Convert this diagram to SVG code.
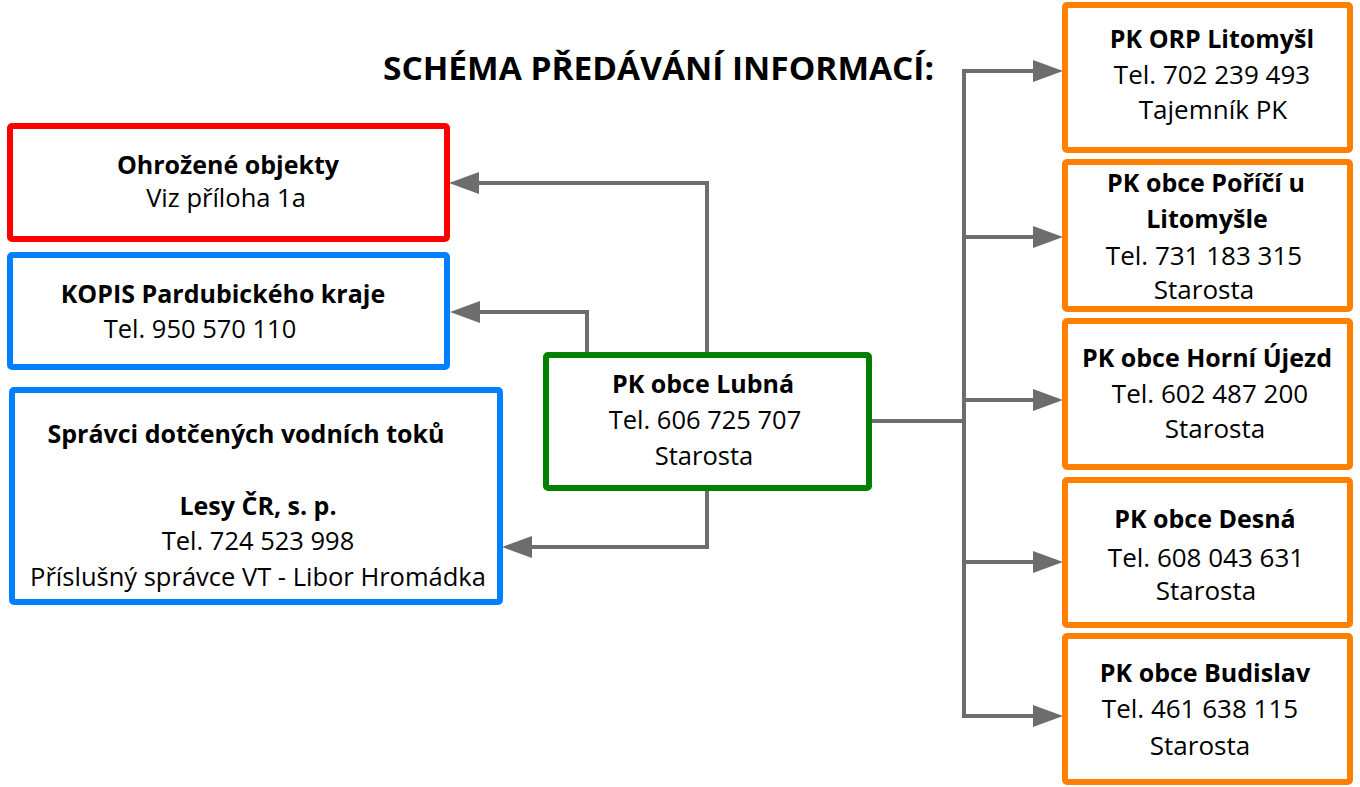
<svg xmlns="http://www.w3.org/2000/svg" width="1360" height="787" viewBox="0 0 1360 787">
<style>
.box{fill:#fff;stroke-width:6;stroke-linejoin:round}
.red{stroke:#ff0000}.blue{stroke:#0080ff}.green{stroke:#008000}.orange{stroke:#ff8000}
text{font-family:"Open Sans","Noto Sans","DejaVu Sans",sans-serif;fill:#000;text-anchor:middle}
.b{font-weight:bold}
.l{font-size:25.5px}.lb{font-size:25px;font-weight:bold}
.r{font-size:26px}.rb{font-size:25px;font-weight:bold}
.c{fill:none;stroke:#6d6d6d;stroke-width:4}
.a{marker-end:url(#arr)}
</style>
<defs>
<marker id="arr" viewBox="0 0 30 22" refX="0" refY="11" markerWidth="30" markerHeight="22" markerUnits="userSpaceOnUse" orient="auto">
<path d="M0,0 L30,11 L0,22 z" fill="#6d6d6d"/>
</marker>
</defs>
<rect width="1360" height="787" fill="#fff"/>
<text x="383" y="80" class="b" style="font-size:33px;text-anchor:start" textLength="551" lengthAdjust="spacingAndGlyphs">SCHÉMA PŘEDÁVÁNÍ INFORMACÍ:</text>
<g id="connectors">
<path class="c a" d="M707,352 V183 H479"/>
<path class="c a" d="M587,352 V312 H480"/>
<path class="c a" d="M707,491 V547 H532"/>
<path class="c" d="M872,421 H964"/>
<path class="c" d="M964,69 V718"/>
<path class="c a" d="M962,71 H1033"/>
<path class="c a" d="M962,237 H1033"/>
<path class="c a" d="M962,400 H1033"/>
<path class="c a" d="M962,562 H1033"/>
<path class="c a" d="M962,716 H1033"/>
</g>
<g id="ohrozene">
<rect class="box red" x="10" y="126" width="437" height="113" rx="2"/>
<text x="228" y="174" class="lb">Ohrožené objekty</text>
<text x="226" y="207" class="l">Viz příloha 1a</text>
</g>
<g id="kopis">
<rect class="box blue" x="10" y="255" width="437" height="112" rx="2"/>
<text x="223" y="303" class="lb">KOPIS Pardubického kraje</text>
<text x="200" y="338" class="l">Tel. 950 570 110</text>
</g>
<g id="spravci">
<rect class="box blue" x="12" y="390" width="488" height="212" rx="2"/>
<text x="246" y="443" class="lb">Správci dotčených vodních toků</text>
<text x="258" y="515" class="lb">Lesy ČR, s. p.</text>
<text x="258" y="550" class="l">Tel. 724 523 998</text>
<text x="258" y="586" class="l">Příslušný správce VT - Libor Hromádka</text>
</g>
<g id="lubna">
<rect class="box green" x="546" y="355" width="323" height="133" rx="2"/>
<text x="703" y="393" class="lb">PK obce Lubná</text>
<text x="705" y="429" class="l">Tel. 606 725 707</text>
<text x="704" y="465" class="l">Starosta</text>
</g>
<g id="litomysl">
<rect class="box orange" x="1065" y="5" width="285" height="145" rx="2"/>
<text x="1212" y="48" class="rb">PK ORP Litomyšl</text>
<text x="1212" y="84" class="r">Tel. 702 239 493</text>
<text x="1213" y="119" class="r">Tajemník PK</text>
</g>
<g id="porici">
<rect class="box orange" x="1065" y="162" width="285" height="147" rx="2"/>
<text x="1206" y="192" class="rb">PK obce Poříčí u</text>
<text x="1207" y="228" class="rb">Litomyšle</text>
<text x="1204" y="265" class="r">Tel. 731 183 315</text>
<text x="1204" y="299" class="r">Starosta</text>
</g>
<g id="horni-ujezd">
<rect class="box orange" x="1065" y="321" width="285" height="146" rx="2"/>
<text x="1207" y="367" class="rb">PK obce Horní Újezd</text>
<text x="1210" y="403" class="r">Tel. 602 487 200</text>
<text x="1215" y="438" class="r">Starosta</text>
</g>
<g id="desna">
<rect class="box orange" x="1065" y="480" width="285" height="145" rx="2"/>
<text x="1205" y="528" class="rb">PK obce Desná</text>
<text x="1206" y="567" class="r">Tel. 608 043 631</text>
<text x="1206" y="600" class="r">Starosta</text>
</g>
<g id="budislav">
<rect class="box orange" x="1065" y="636" width="285" height="146" rx="2"/>
<text x="1205" y="682" class="rb">PK obce Budislav</text>
<text x="1200" y="718" class="r">Tel. 461 638 115</text>
<text x="1200" y="755" class="r">Starosta</text>
</g>
</svg>
